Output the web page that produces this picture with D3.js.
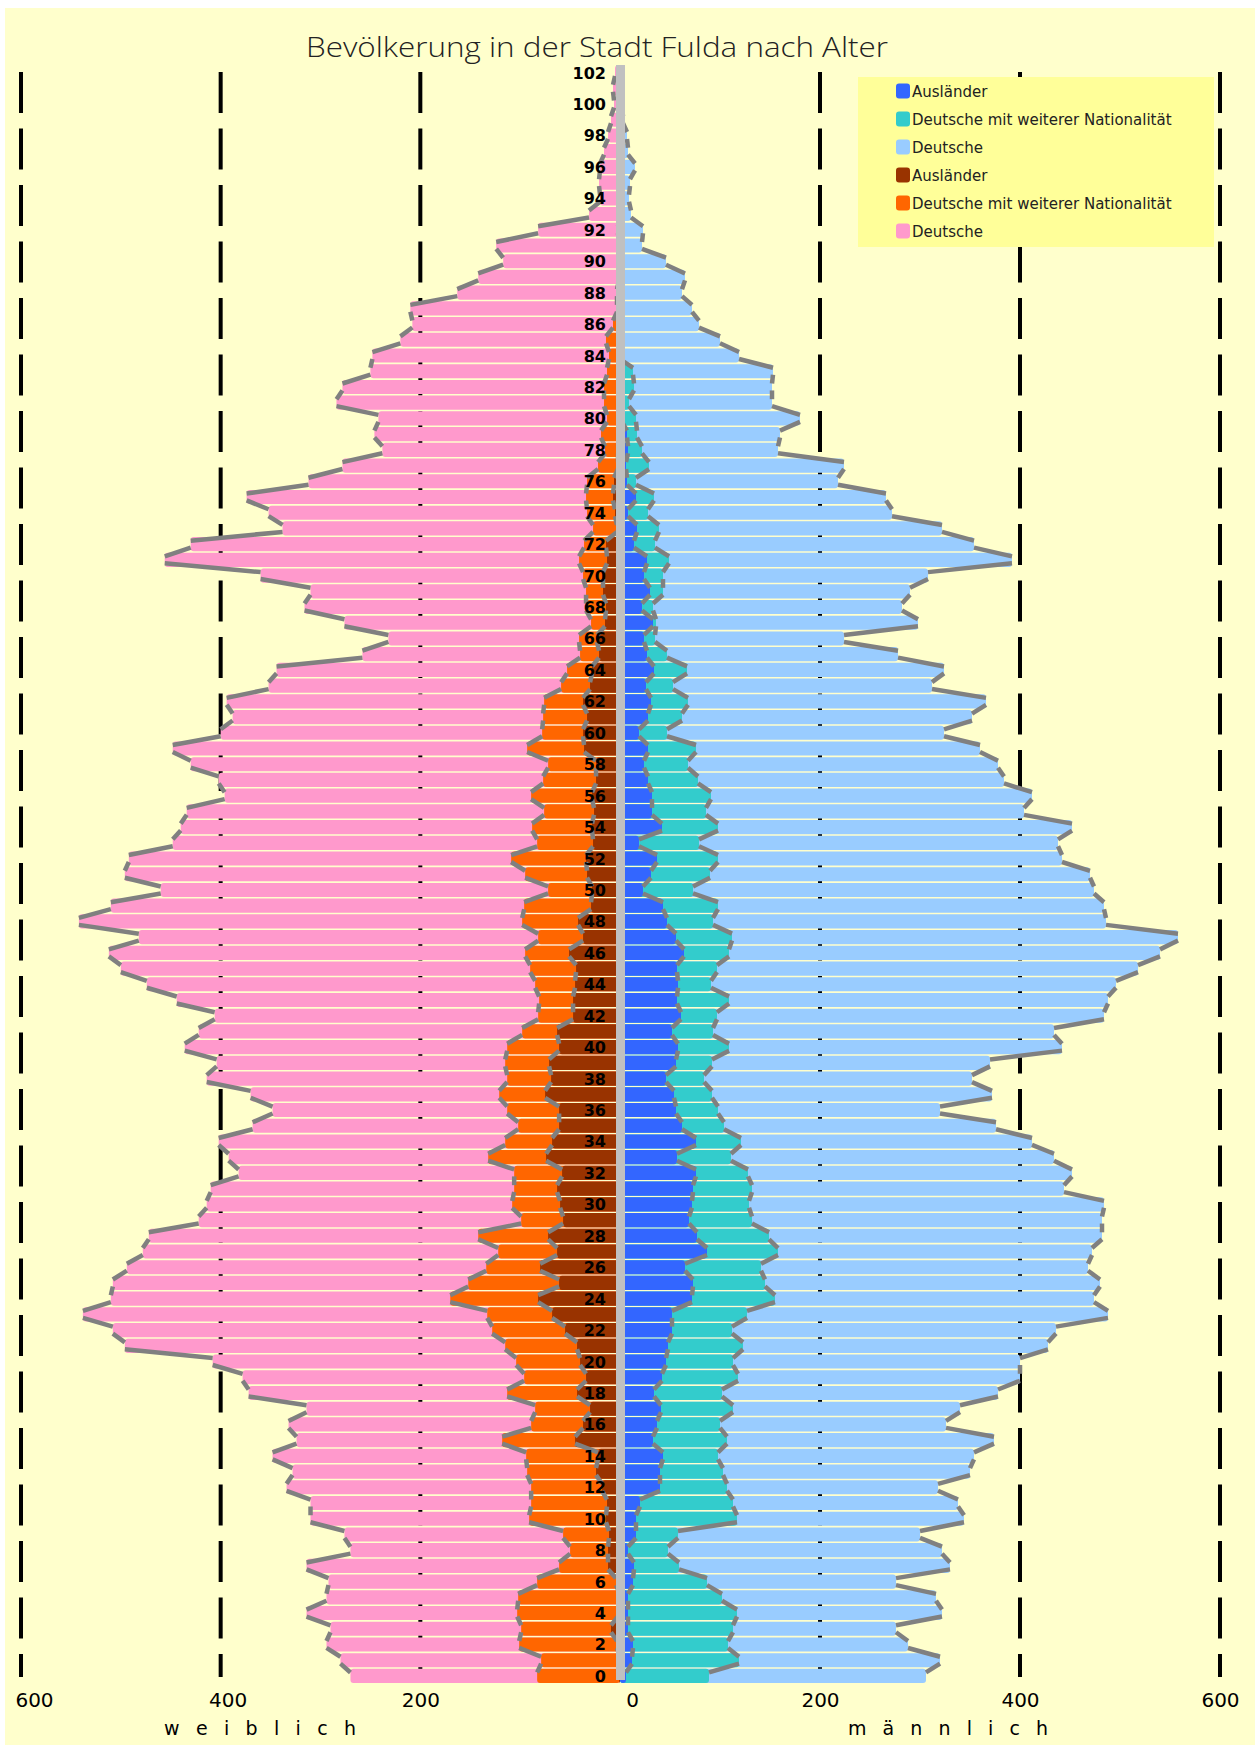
<!DOCTYPE html>
<html>
<head>
<meta charset="utf-8">
<script src="https://d3js.org/d3.v7.min.js"></script>
<style>
  body { margin: 0; background: #ffffff; }
</style>
</head>
<body>
<script>
// Bevölkerung Fulda: ages 0..102, values per age (index = age)
var ages = d3.range(0, 103);

// weiblich
var wAus = [1,0,3,9,2,0,4,12,12,11, 14,13,18,24,22,45,37,30,43,34,
            40,43,55,68,82,61,80,63,72,57, 60,63,58,74,68,61,61,75,69,71,
            61,63,47,47,45,44,51,37,42,29, 28,33,34,27,28,26,28,24,24,36,
            37,33,37,30,28,21,23,15,14,17, 17,13,14,3,5,7,6,2,2,1,
            1,1,0,0,0,0,0,0,0,0, 0,0,0,0,0,0,0,0,0,0, 0,0,0];
var wDmw = [82,79,98,90,101,102,79,49,38,46, 77,76,71,69,72,73,52,55,70,62,
            64,72,73,65,88,91,54,59,70,42, 48,43,48,58,47,41,52,46,44,44,
            52,35,35,34,40,46,44,45,56,67, 44,62,75,56,60,50,61,53,48,57,
            41,44,39,29,25,19,18,14,20,17, 20,28,22,24,28,27,27,20,13,18,
            12,15,16,13,11,14,7,3,3,1, 1,1,2,0,0,0,0,0,0,0, 0,0,0];
var wDe = [187,201,193,191,211,192,209,253,220,219, 219,221,245,235,254,206,243,229,259,282,
           304,381,380,405,340,356,360,356,330,323, 306,304,276,260,287,266,235,249,301,289,
           323,324,324,363,389,410,417,400,444,414, 388,401,383,365,352,358,307,325,358,355,
           322,311,318,293,291,218,191,247,282,276, 323,415,394,311,319,340,279,256,223,227,
           229,268,262,237,237,206,201,207,160,141, 116,123,80,31,20,21,20,16,12,9, 6,7,5];

// männlich
var mAus = [6,12,13,8,8,8,13,14,8,16, 16,20,40,40,43,33,37,41,34,42,
            46,48,52,52,72,73,65,87,77,69, 72,73,76,57,76,62,56,54,46,56,
            58,52,61,57,58,57,64,56,47,43, 23,31,37,19,42,32,32,28,24,28,
            19,28,31,26,34,27,24,33,22,30, 24,27,14,17,8,16,7,6,8,7,
            2,1,0,0,0,0,0,0,0,0, 0,0,0,0,0,0,0,0,0,0, 0,0,0];
var mDmw = [83,107,95,105,109,94,74,45,40,42, 101,93,67,63,55,74,63,72,68,76,
            67,75,60,75,83,72,76,71,72,63, 57,59,52,54,45,42,42,38,38,36,
            51,41,36,52,33,40,45,56,46,55, 50,59,61,60,56,54,59,50,44,48,
            28,34,37,27,33,20,11,3,11,13, 19,22,21,22,20,18,9,23,14,10,
            14,8,14,13,0,0,0,0,0,0, 0,0,0,0,0,0,0,0,0,0, 0,0,0];
var mDe = [217,201,180,163,205,214,189,271,274,242, 227,225,211,247,256,267,226,227,276,282,
           287,305,324,361,319,335,327,314,333,350, 355,312,324,323,291,272,222,280,268,278,
           333,341,387,379,405,421,431,446,393,386, 401,380,344,359,354,318,321,306,310,284,
           277,290,298,259,257,231,189,262,249,247, 265,343,319,283,244,232,202,195,136,143,
           164,143,138,140,119,100,79,72,62,65, 46,22,23,11,9,10,15,8,7,3, 2,1,2];

var legendNames = ["Ausländer", "Deutsche mit weiterer Nationalität", "Deutsche",
                   "Ausländer", "Deutsche mit weiterer Nationalität", "Deutsche"];
var leftTicks = [200, 400, 600];
var rightTicks = [0, 200, 400, 600];

window.onload = function(){
    drawPyramid();
};

function drawPyramid(){
    var svg = d3.select("body").append("svg").attr("width", 1255).attr("height", 1745);

    var colW = ["#993300", "#ff6600", "#ff99cc"];
    var colM = ["#3366ff", "#33cccc", "#99ccff"];

    // chart area background
    svg.append("rect")
        .attr("x", 5).attr("y", 8)
        .attr("width", 1250).attr("height", 1737)
        .attr("fill", "#ffffcc");

    var xL = d3.scaleLinear().domain([0, 600]).range([620, 21]);
    var xR = d3.scaleLinear().domain([0, 600]).range([620, 1220]);
    var y = d3.scaleBand()
        .domain(ages.slice().reverse())
        .range([65.5, 1683])
        .paddingInner(0.1);
    var bw = y.bandwidth();
    function yc(a){ return y(a) + bw / 2; }

    var rows = ages.map(function(a){
        return {age: a, wAus: wAus[a], wDmw: wDmw[a], wDe: wDe[a],
                mAus: mAus[a], mDmw: mDmw[a], mDe: mDe[a]};
    });
    var stackW = d3.stack().keys(["wAus", "wDmw", "wDe"])(rows);
    var stackM = d3.stack().keys(["mAus", "mDmw", "mDe"])(rows);

    // dashed vertical grid lines (behind the bars)
    var grid = svg.append("g");
    var gx = leftTicks.map(function(t){ return xL(t); })
        .concat(rightTicks.filter(function(t){ return t > 0; }).map(function(t){ return xR(t); }));
    grid.selectAll("line")
        .data(gx)
        .enter()
        .append("line")
        .attr("x1", function(d){ return d; })
        .attr("x2", function(d){ return d; })
        .attr("y1", 72)
        .attr("y2", 1677)
        .attr("stroke", "#000")
        .attr("stroke-width", 4)
        .attr("stroke-dasharray", "41 15.5");

    // bars: full cumulative length, outer series first so inner ones sit on top
    function drawSide(stack, x, cols, left){
        for (var s = stack.length - 1; s >= 0; s--) {
            svg.append("g")
                .selectAll("rect")
                .data(stack[s])
                .enter()
                .append("rect")
                .attr("x", function(d){ return left ? x(d[1]) : x(0); })
                .attr("width", function(d){ return Math.abs(x(d[1]) - x(0)); })
                .attr("y", function(d){ return y(d.data.age); })
                .attr("height", bw)
                .attr("rx", 3)
                .attr("fill", cols[s]);
        }
    }
    drawSide(stackW, xL, colW, true);
    drawSide(stackM, xR, colM, false);

    // grey series lines joining the ends of neighbouring bars
    function seriesLines(stack, x){
        var d = bw / 2 - 3.6;
        stack.forEach(function(ser){
            var segs = [];
            for (var i = 1; i < ser.length; i++) {
                segs.push([[x(ser[i][1]), yc(i) + d], [x(ser[i - 1][1]), yc(i - 1) - d]]);
            }
            svg.append("g")
                .selectAll("path")
                .data(segs)
                .enter()
                .append("path")
                .attr("d", function(p){ return d3.line()(p); })
                .attr("stroke", "#808080")
                .attr("stroke-width", 4.5)
                .attr("fill", "none");
        });
    }
    seriesLines(stackW, xL);
    seriesLines(stackM, xR);

    // centre axis band
    svg.append("rect")
        .attr("x", 616).attr("y", 65)
        .attr("width", 9).attr("height", 1615)
        .attr("fill", "#c0c0c0");

    // age labels every 2 years
    svg.append("g")
        .selectAll("text")
        .data(ages.filter(function(a){ return a % 2 === 0; }))
        .enter()
        .append("text")
        .attr("x", 606)
        .attr("y", function(a){ return yc(a) + 6; })
        .attr("text-anchor", "end")
        .style("font-family", "DejaVu Sans")
        .style("font-weight", "bold")
        .style("font-size", "16px")
        .attr("fill", "#000")
        .text(function(a){ return a; });

    // value axes at the bottom
    var axL = svg.append("g")
        .attr("transform", "translate(0,1690)")
        .call(d3.axisBottom(xL).tickValues(leftTicks).tickSize(0).tickPadding(3));
    var axR = svg.append("g")
        .attr("transform", "translate(0,1690)")
        .call(d3.axisBottom(xR).tickValues(rightTicks).tickSize(0).tickPadding(3));
    [axL, axR].forEach(function(ax){
        ax.select(".domain").remove();
        ax.selectAll("text")
            .style("font-family", "DejaVu Sans")
            .style("font-size", "20px")
            .attr("fill", "#000");
    });
    // label nudges as in the original layout
    var nudgeL = {200: 0, 400: 7, 600: 13};
    axL.selectAll(".tick text").attr("dx", function(t){ return nudgeL[t]; });
    axR.selectAll(".tick").filter(function(t){ return t === 0; })
        .select("text").attr("dx", 12);

    // side labels
    svg.append("text")
        .attr("x", 164).attr("y", 1735)
        .attr("textLength", 192).attr("lengthAdjust", "spacing")
        .style("font-family", "DejaVu Sans").style("font-size", "19px")
        .text("w e i b l i c h");
    svg.append("text")
        .attr("x", 848).attr("y", 1735)
        .attr("textLength", 200).attr("lengthAdjust", "spacing")
        .style("font-family", "DejaVu Sans").style("font-size", "19px")
        .text("m ä n n l i c h");

    // title
    svg.append("text")
        .attr("x", 306).attr("y", 57)
        .attr("textLength", 582).attr("lengthAdjust", "spacingAndGlyphs")
        .style("font-family", "Open Sans")
        .style("font-weight", 300)
        .style("font-size", "28px")
        .attr("fill", "#222")
        .text("Bevölkerung in der Stadt Fulda nach Alter");

    // legend
    var lg = svg.append("g");
    lg.append("rect")
        .attr("x", 858).attr("y", 77)
        .attr("width", 356).attr("height", 170)
        .attr("fill", "#ffff99");
    var lgCols = [colM[0], colM[1], colM[2], colW[0], colW[1], colW[2]];
    var item = lg.selectAll(".item")
        .data(legendNames)
        .enter()
        .append("g")
        .attr("class", "item")
        .attr("transform", function(d, i){ return "translate(896," + (91 + i * 28) + ")"; });
    item.append("rect")
        .attr("x", 0).attr("y", -7.5)
        .attr("width", 14).attr("height", 15)
        .attr("rx", 3)
        .attr("fill", function(d, i){ return lgCols[i]; });
    item.append("text")
        .attr("x", 16).attr("y", 5.5)
        .style("font-family", "DejaVu Sans")
        .style("font-size", "15px")
        .attr("fill", "#222")
        .text(function(d){ return d; });
}
</script>
</body>
</html>
